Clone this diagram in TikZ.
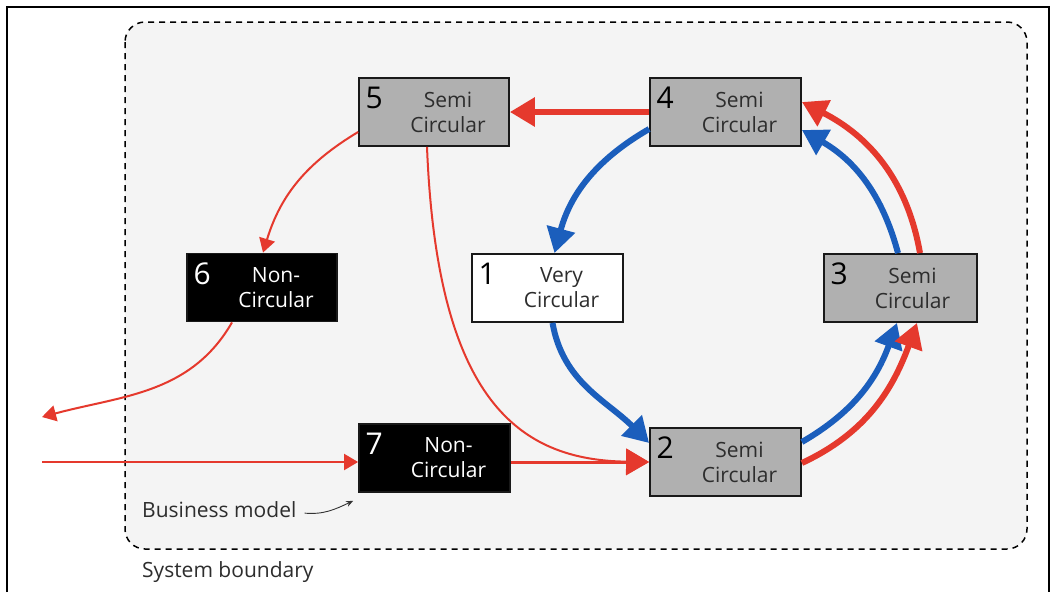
\documentclass[tikz,border=0pt]{standalone}
\usepackage{fontspec}
\setmainfont{Open Sans}
\usetikzlibrary{arrows.meta}
\definecolor{flowred}{RGB}{229,57,45}
\definecolor{flowblue}{RGB}{27,94,188}
\definecolor{semigray}{RGB}{176,176,176}
\definecolor{panel}{RGB}{244,244,244}
\definecolor{inktext}{RGB}{45,45,45}

\begin{document}
\begin{tikzpicture}[x=1pt,y=1pt,
  stagebox/.style={draw=black!90, line width=1.8pt, minimum width=150pt, minimum height=68pt, inner sep=0pt},
  semi/.style={stagebox, fill=semigray},
  nonc/.style={stagebox, fill=black},
  very/.style={stagebox, fill=white},
  stagenum/.style={font=\fontsize{30}{30}\selectfont, inner sep=0pt},
  stagetxt/.style={font=\fontsize{21}{25}\selectfont, align=center, inner sep=0pt},
  bigred/.style={draw=flowred, line width=6pt, -{Triangle[length=25pt,width=28pt]}},
  bigblue/.style={draw=flowblue, line width=6pt, -{Triangle[length=25pt,width=28pt]}},
  thinred/.style={draw=flowred, line width=2pt, -{Triangle[length=14pt,width=16pt]}},
  midred/.style={draw=flowred, -{Triangle[length=23pt,width=26pt]}},
  caption/.style={font=\fontsize{21}{21}\selectfont, text=inktext, anchor=base west, inner sep=0pt},
  bmarrow/.style={draw=black!80, line width=0.9pt, -{Stealth[length=7pt,width=6pt]}},
]
% page and outer frame
\fill[white] (0,0) rectangle (1051,-592);
\useasboundingbox (0,0) rectangle (1051,-592);
\draw[line width=1.6pt] (7,-592) -- (7,-7) -- (1049,-7) -- (1049,-592);

% system boundary
\draw[fill=panel, dashed, dash pattern=on 6pt off 5pt, line width=1.5pt, rounded corners=20pt]
  (125,-22) rectangle (1027,-549);

% stages
\node[semi] (b5) at (434,-112) {};
\node[semi, minimum width=151pt] (b4) at (725.5,-112) {};
\node[nonc] (b6) at (262,-287.5) {};
\node[very, minimum width=151pt] (b1) at (547.5,-288) {};
\node[semi, minimum width=153pt] (b3) at (900.5,-288) {};
\node[nonc, minimum width=151pt] (b7) at (434.5,-458) {};
\node[semi, minimum width=151pt] (b2) at (725.5,-462) {};

\node[stagenum] (n5) at ([shift={(16pt,-21pt)}]b5.north west) {5};
\node[stagenum] (n4) at ([shift={(16pt,-21pt)}]b4.north west) {4};
\node[stagenum, text=white] (n6) at ([shift={(16pt,-21pt)}]b6.north west) {6};
\node[stagenum] (n1) at ([shift={(16pt,-21pt)}]b1.north west) {1};
\node[stagenum] (n3) at ([shift={(16pt,-21pt)}]b3.north west) {3};
\node[stagenum, text=white] (n7) at ([shift={(16pt,-21pt)}]b7.north west) {7};
\node[stagenum] (n2) at ([shift={(16pt,-21pt)}]b2.north west) {2};

\node[stagetxt, text=inktext] (t5) at ([xshift=14pt]b5.center) {Semi\\Circular};
\node[stagetxt, text=inktext] (t4) at ([xshift=14pt]b4.center) {Semi\\Circular};
\node[stagetxt, text=white] (t6) at ([xshift=14pt]b6.center) {Non-\\Circular};
\node[stagetxt, text=inktext] (t1) at ([xshift=14pt]b1.center) {Very\\Circular};
\node[stagetxt, text=inktext] (t3) at ([xshift=12pt]b3.center) {Semi\\Circular};
\node[stagetxt, text=white] (t7) at ([xshift=14pt]b7.center) {Non-\\Circular};
\node[stagetxt, text=inktext] (t2) at ([xshift=14pt]b2.center) {Semi\\Circular};

% captions
\node[caption] (bm) at (142,-517) {Business model};
\node[caption] (sb) at (142,-577) {System boundary};

% free ends outside the boundary
\coordinate (extout) at (42,-417);
\coordinate (extin) at (42,-462);

% inner loop
\draw[bigred] (b4.west) -- (b5.east);
\draw[bigblue] ([yshift=-17pt]b4.west) to[out=210,in=75] ([xshift=7pt]b1.north);
\draw[bigblue] ([xshift=5pt]b1.south) to[out=-80,in=135] ([yshift=19pt]b2.west);
\draw[bigblue] ([yshift=20pt]b2.east) to[out=30,in=-110] ([xshift=-3.5pt]b3.south);
\draw[bigred] ([yshift=-1pt]b2.east) to[out=25,in=-110] ([xshift=16.5pt]b3.south);
\draw[bigblue] ([xshift=-2.5pt]b3.north) to[out=105,in=-30] ([yshift=-18pt]b4.east);
\draw[bigred] ([xshift=19.5pt]b3.north) to[out=100,in=-27] ([yshift=10pt]b4.east);

% flows leaving and entering
\draw[thinred] ([yshift=-20pt]b5.west) to[out=211,in=73] ([xshift=1pt]b6.north);
\draw[thinred] ([xshift=-30pt]b6.south) to[out=-120,in=15] (extout);
\draw[thinred] (extin) -- ([yshift=-4pt]b7.west);
\draw[midred, line width=2pt] ([xshift=-7pt]b5.south) .. controls +(10,-254) and +(-130,2) .. (b2.west);
\draw[midred, line width=3pt] ([yshift=-4pt]b7.east) -- (b2.west);

% business model pointer
\draw[bmarrow] ([shift={(8pt,-4pt)}]bm.east) to[out=-5,in=205] ([shift={(-5pt,-8pt)}]b7.south west);
\end{tikzpicture}
\end{document}
